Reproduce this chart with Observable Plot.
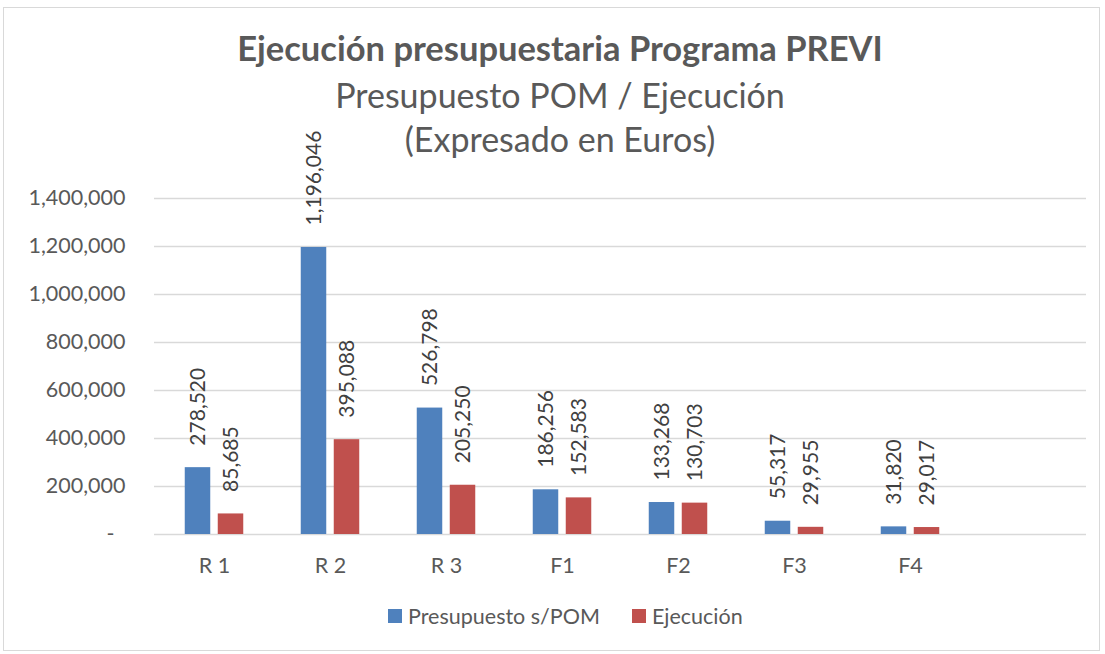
<!DOCTYPE html>
<html>
<head>
<meta charset="utf-8">
<script src="https://cdn.jsdelivr.net/npm/d3@7"></script>
<script src="https://cdn.jsdelivr.net/npm/@observablehq/plot@0.6"></script>
<style>
  html, body { margin: 0; padding: 0; background: #fff; }
  body { font-family: Lato, "Open Sans", sans-serif; color: #595959; }
  #frame { position: absolute; left: 3px; top: 7px; width: 1097px; height: 644px; border: 1px solid #d9d9d9; box-sizing: border-box; background: #fff; }
  #titles { position: relative; height: 170px; }
  #titles div { position: absolute; left: 17px; right: 0; text-align: center; line-height: 1; white-space: nowrap; font-size: 34px; color: #595959; }
  #t1 { top: 23px; font-weight: bold; font-size: 34.5px !important; }
  #t2 { top: 70px; }
  #t3 { top: 114px; }
  #chart svg { display: block; overflow: visible; }
  #legend { position: absolute; left: 388px; top: 604px; display: flex; align-items: center; font-size: 21.5px; color: #595959; line-height: 24px; white-space: nowrap; }
  #legend .item { display: flex; align-items: center; }
  #legend .sw { width: 14px; height: 14px; margin-right: 6px; }
</style>
</head>
<body>
<div id="frame">
  <div id="titles">
    <div id="t1">Ejecución presupuestaria Programa PREVI</div>
    <div id="t2">Presupuesto POM / Ejecución</div>
    <div id="t3">(Expresado en Euros)</div>
  </div>
  <div id="chart"></div>
</div>
<div id="legend"></div>
<script>
const categories = ["R 1", "R 2", "R 3", "F1", "F2", "F3", "F4", ""];
const presupuesto = [278520, 1196046, 526798, 186256, 133268, 55317, 31820];
const ejecucion = [85685, 395088, 205250, 152583, 130703, 29955, 29017];
const seriesNames = ["Presupuesto s/POM", "Ejecución"];
const seriesColors = ["#4F81BD", "#C0504D"];
const yTicks = [0, 200000, 400000, 600000, 800000, 1000000, 1200000, 1400000];

const fmt = d3.format(",");
const rowsP = presupuesto.map((v, i) => ({cat: categories[i], value: v, series: seriesNames[0]}));
const rowsE = ejecucion.map((v, i) => ({cat: categories[i], value: v, series: seriesNames[1]}));

const W = 1095, H = 406;
const mL = 150, mR = 13;
const step = (W - mL - mR) / categories.length;
const barW = 26, gap = 7;
const half = step / 2;
const innerL = half - (barW + gap / 2);   // blue bar left inset
const innerR = half + gap / 2;            // blue bar right inset
const off = (barW + gap) / 2;

const chart = Plot.plot({
  width: W,
  height: H,
  marginTop: 20,
  marginBottom: 50,
  marginLeft: mL,
  marginRight: mR,
  style: {fontFamily: "Lato, 'Open Sans', sans-serif", fontSize: "21.5px", color: "#595959", background: "transparent", overflow: "visible"},
  x: {domain: categories, padding: 0, label: null, tickSize: 0, tickPadding: 23},
  y: {domain: [0, 1400000], ticks: yTicks, label: null, tickSize: 0, tickPadding: 29,
      tickFormat: d => d === 0 ? "-\u00a0\u00a0" : fmt(d)},
  marks: [
    Plot.ruleY(yTicks, {stroke: "#d9d9d9", strokeWidth: 1.5}),
    Plot.barY(rowsP, {x: "cat", y: "value", fill: seriesColors[0], insetLeft: innerL, insetRight: innerR}),
    Plot.barY(rowsE, {x: "cat", y: "value", fill: seriesColors[1], insetLeft: innerR, insetRight: innerL}),
    Plot.text(rowsP, {x: "cat", y: "value", text: d => fmt(d.value), rotate: -90, textAnchor: "start", dx: -off, dy: -22, fill: "#404040", fontSize: 21}),
    Plot.text(rowsE, {x: "cat", y: "value", text: d => fmt(d.value), rotate: -90, textAnchor: "start", dx: off, dy: -22, fill: "#404040", fontSize: 21})
  ]
});
document.getElementById("chart").appendChild(chart);

const legend = document.getElementById("legend");
seriesNames.forEach((name, i) => {
  const item = document.createElement("div");
  item.className = "item";
  if (i > 0) item.style.marginLeft = "32px";
  const sw = document.createElement("div");
  sw.className = "sw";
  sw.style.background = seriesColors[i];
  const label = document.createElement("span");
  label.textContent = name;
  item.appendChild(sw);
  item.appendChild(label);
  legend.appendChild(item);
});
</script>
</body>
</html>
